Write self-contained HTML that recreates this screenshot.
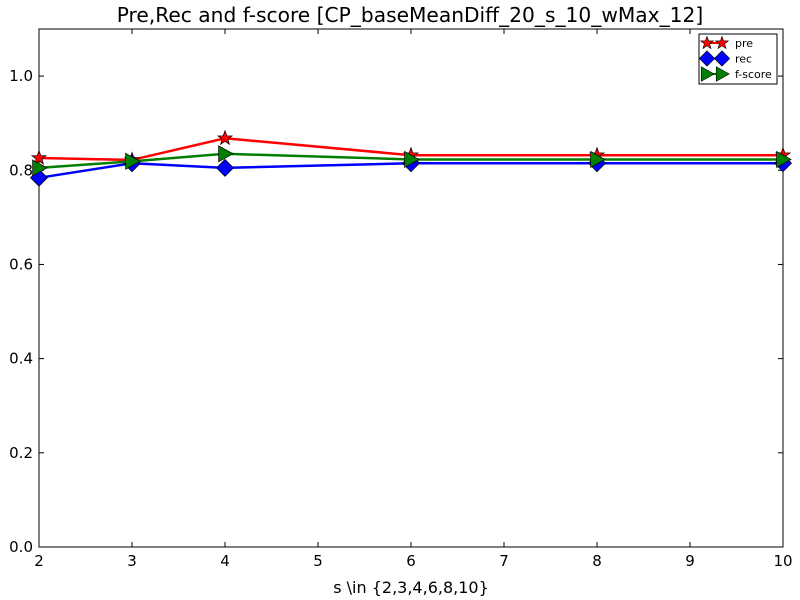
<!DOCTYPE html>
<html><head><meta charset="utf-8"><style>
body{margin:0;background:#fff;}
svg{display:block;font-family:"DejaVu Sans","Liberation Sans",sans-serif;}
</style></head><body>
<svg id="chart" width="800" height="600">
<rect x="0" y="0" width="800" height="600" fill="#fff"/>
<text x="410" y="22" text-anchor="middle" font-size="20.2">Pre,Rec and f-score [CP_baseMeanDiff_20_s_10_wMax_12]</text>
<g id="axes"></g>
<g id="series"></g>
<text x="411" y="593" text-anchor="middle" font-size="16">s \in {2,3,4,6,8,10}</text>
<g>
<rect x="699" y="34" width="78" height="50" fill="#fff" stroke="#000" stroke-width="1"/>
<g id="legend-items"></g>
</g>
</svg>
<script>
const xs = [2, 3, 4, 6, 8, 10];
const preVals = [0.826, 0.822, 0.868, 0.832, 0.832, 0.832];
const recVals = [0.784, 0.815, 0.805, 0.815, 0.815, 0.815];
const fVals = [0.805, 0.819, 0.835, 0.823, 0.823, 0.823];
const xTicks = [2, 3, 4, 5, 6, 7, 8, 9, 10];
const yTicks = [0.0, 0.2, 0.4, 0.6, 0.8, 1.0];

const L = 39, R = 783, T = 29, B = 547;
const X = v => L + (v - 2) / 8 * (R - L);
const Y = v => B - v / 1.1 * (B - T);
const NS = "http://www.w3.org/2000/svg";
function mk(tag, attrs, parent) {
  const e = document.createElementNS(NS, tag);
  for (const k in attrs) e.setAttribute(k, attrs[k]);
  parent.appendChild(e);
  return e;
}
const axes = document.getElementById('axes');
const frame = mk('rect', {x: L, y: T, width: R - L, height: B - T, fill: 'none', stroke: '#000', 'stroke-width': 1}, axes);


xTicks.forEach(t => {
  const x = X(t);
  mk('line', {x1: x, x2: x, y1: B, y2: B - 5, stroke: '#000'}, axes);
  mk('line', {x1: x, x2: x, y1: T, y2: T + 5, stroke: '#000'}, axes);
  const tx = mk('text', {x: x, y: B + 19, 'text-anchor': 'middle', 'font-size': 15}, axes);
  tx.textContent = t;
  
  
});
yTicks.forEach(t => {
  const y = Y(t);
  mk('line', {x1: L, x2: L + 5, y1: y, y2: y, stroke: '#000'}, axes);
  mk('line', {x1: R, x2: R - 5, y1: y, y2: y, stroke: '#000'}, axes);
  const tx = mk('text', {x: L - 6, y: y + 5, 'text-anchor': 'end', 'font-size': 15}, axes);
  tx.textContent = t.toFixed(1);
  
  
});

function star(cx, cy, r) {
  let p = [];
  for (let i = 0; i < 10; i++) {
    const a = -Math.PI / 2 + i * Math.PI / 5, rr = i % 2 ? r * 0.4 : r;
    p.push((cx + rr * Math.cos(a)).toFixed(1) + ',' + (cy + rr * Math.sin(a)).toFixed(1));
  }
  return p.join(' ');
}
function diamond(cx, cy, r) { return `${cx},${cy - r} ${cx + r},${cy} ${cx},${cy + r} ${cx - r},${cy}`; }
function tri(cx, cy, r) { return `${cx - r * 0.8},${cy - r} ${cx + r},${cy} ${cx - r * 0.8},${cy + r}`; }

const seriesG = document.getElementById('series');
const defs = [
  {name: 'pre', vals: preVals, color: '#ff0000', shape: star, r: 7.5},
  {name: 'rec', vals: recVals, color: '#0000ff', shape: diamond, r: 8.5},
  {name: 'f-score', vals: fVals, color: '#008000', shape: tri, r: 8}
];
defs.forEach(s => {
  const g = mk('g', {}, seriesG);
  
  
  const pts = xs.map((x, i) => X(x) + ',' + Y(s.vals[i])).join(' ');
  mk('polyline', {points: pts, fill: 'none', stroke: s.color, 'stroke-width': 2.5}, g);
  xs.forEach((x, i) => {
    const m = mk('polygon', {points: s.shape(X(x), Y(s.vals[i]), s.r), fill: s.color, stroke: '#000', 'stroke-width': 0.7}, g);
    
    
  });
});

const lg = document.getElementById('legend-items');
defs.forEach((s, i) => {
  const y = 43 + i * 15.5;
  const g = mk('g', {}, lg);
  
  
  mk('line', {x1: 707, x2: 722, y1: y, y2: y, stroke: s.color, 'stroke-width': 2}, g);
  mk('polygon', {points: s.shape(707, y, s.r * 0.9), fill: s.color, stroke: '#000', 'stroke-width': 0.6}, g);
  mk('polygon', {points: s.shape(722, y, s.r * 0.9), fill: s.color, stroke: '#000', 'stroke-width': 0.6}, g);
  const t = mk('text', {x: 735, y: y + 4, 'font-size': 11}, g);
  t.textContent = s.name;
});
</script>
</body></html>
